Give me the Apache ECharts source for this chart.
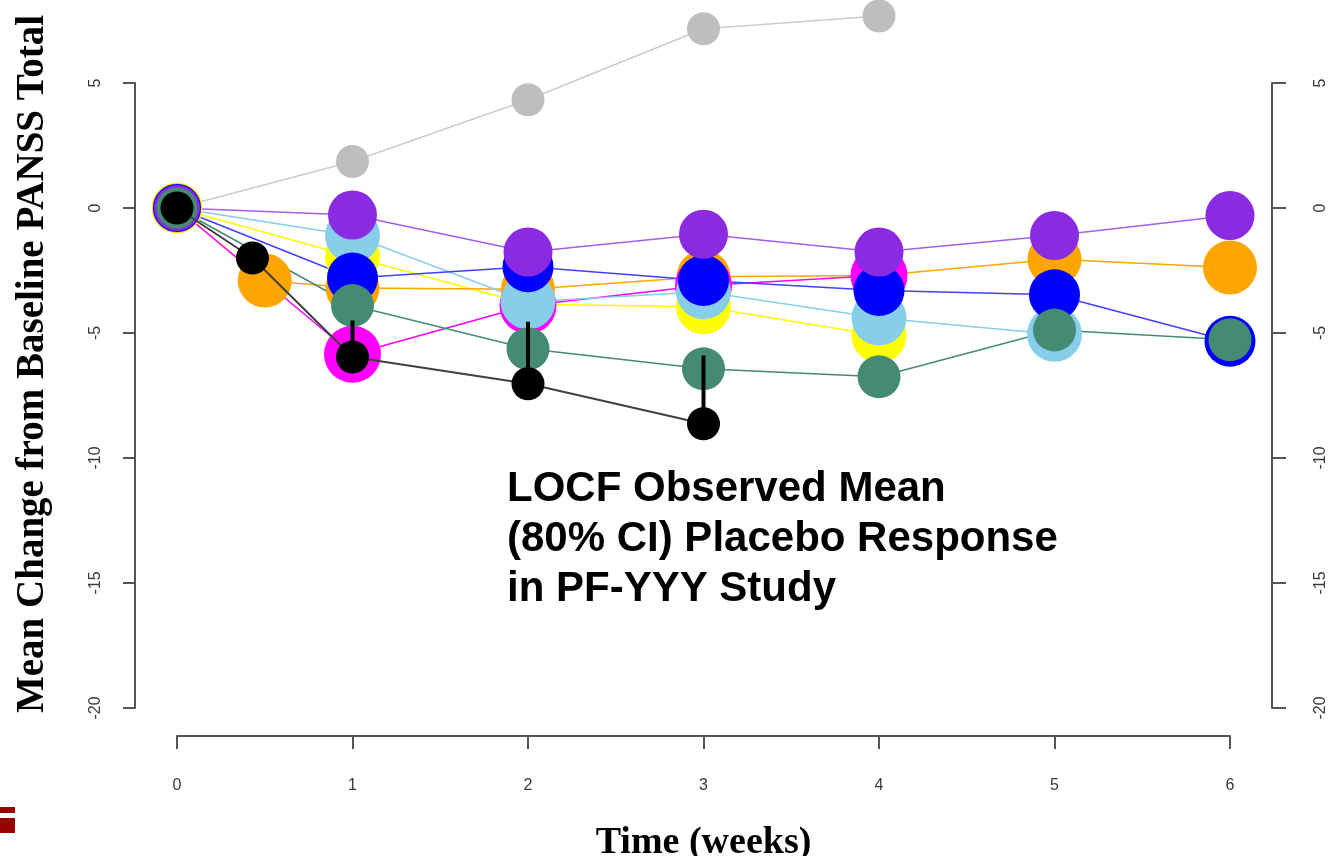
<!DOCTYPE html>
<html>
<head>
<meta charset="utf-8">
<script src="https://cdn.jsdelivr.net/npm/echarts@6/dist/echarts.min.js"></script>
<style>
  html, body { margin: 0; padding: 0; background: #fff; }
  #chart { width: 1336px; height: 856px; }
</style>
</head>
<body>
<div id="chart"></div>
<script>
// weeks on the x axis
const weeks = [0, 1, 2, 3, 4, 5, 6];
const orangeWeeks = [0, 0.5, 1, 2, 3, 4, 5, 6];
const blackWeeks = [0, 0.43, 1, 2, 3];
const yTicks = [-20, -15, -10, -5, 0, 5];

// mean change from baseline, one array per study
const grayVals = [0, 1.86, 4.33, 7.17, 7.68];
const yellowVals = [0, -1.95, -3.85, -3.95, -5.1];
const orangeVals = [0, -2.9, -3.2, -3.25, -2.75, -2.7, -2.05, -2.38];
const magentaVals = [0, -5.85, -3.9, -3.1, -2.7];
const lightBlueVals = [0, -1.1, -3.75, -3.35, -4.4, -5.05];
const blueVals = [0, -2.8, -2.35, -2.9, -3.3, -3.47, -5.33];
const greenVals = [0, -3.9, -5.63, -6.43, -6.75, -4.88, -5.27];
const purpleVals = [0, -0.28, -1.76, -1.05, -1.76, -1.1, -0.3];
const blackVals = [0, -2.0, -5.96, -7.03, -8.63];

// observed placebo 80% CI, upper end (only upper half visible)
const ciWeeks = [1, 2, 3];
const ciUpper = [-4.5, -4.55, -5.9];

const pairs = (xs, ys) => ys.map((v, i) => [xs[i], v]);

function study(name, xs, ys, color, size, baseSize, lineColor, lineWidth, z) {
  return {
    name: name,
    type: 'line',
    z: z || 2,
    data: pairs(xs, ys),
    symbol: 'circle',
    symbolSize: (val, p) => (p.dataIndex === 0 ? baseSize : size),
    clip: false,
    itemStyle: { color: color },
    lineStyle: { color: lineColor || color, width: lineWidth || 1.5 },
    emphasis: { disabled: true }
  };
}

const chart = echarts.init(document.getElementById('chart'));

const axisColor = '#555';
const labelStyle = { color: '#3a3a3a', fontSize: 16, fontFamily: 'Liberation Sans, Arial, sans-serif' };

const option = {
  animation: false,
  grid: { left: 177, width: 1053, top: 83, height: 625, outerBoundsMode: 'none', containLabel: false },
  xAxis: {
    type: 'value',
    min: 0,
    max: 6,
    interval: 1,
    offset: 28,
    splitLine: { show: false },
    axisLine: { onZero: false, lineStyle: { color: axisColor, width: 2 } },
    axisTick: { length: 13, lineStyle: { color: axisColor, width: 2 } },
    axisLabel: Object.assign({ margin: 42 }, labelStyle),
    name: 'Time (weeks)',
    nameLocation: 'middle',
    nameGap: 88,
    nameTextStyle: { fontFamily: 'Liberation Serif, Times New Roman, serif', fontWeight: 'bold', fontSize: 38, color: '#000' }
  },
  yAxis: [
    {
      type: 'value',
      min: -20,
      max: 5,
      interval: 5,
      position: 'left',
      offset: 42,
      splitLine: { show: false },
      axisLine: { show: true, onZero: false, lineStyle: { color: axisColor, width: 2 } },
      axisTick: { show: true, length: 12, lineStyle: { color: axisColor, width: 2 } },
      axisLabel: Object.assign({ rotate: 90, margin: 31,
        formatter: v => yTicks.includes(v) ? String(v) : '' }, labelStyle)
    },
    {
      type: 'value',
      min: -20,
      max: 5,
      interval: 5,
      position: 'right',
      offset: 42,
      splitLine: { show: false },
      axisLine: { show: true, onZero: false, lineStyle: { color: axisColor, width: 2 } },
      axisTick: { show: true, length: 14, lineStyle: { color: axisColor, width: 2 } },
      axisLabel: Object.assign({ rotate: 90, margin: 41 }, labelStyle)
    }
  ],
  graphic: [
    {
      type: 'text',
      x: 33, y: 364,
      rotation: Math.PI / 2,
      style: {
        text: 'Mean Change from Baseline PANSS Total',
        fontFamily: 'Liberation Serif, Times New Roman, serif',
        fontWeight: 'bold',
        fontSize: 39,
        fill: '#000',
        textAlign: 'center',
        textVerticalAlign: 'middle'
      }
    },
    {
      type: 'text',
      x: 507, y: 464,
      style: {
        text: 'LOCF Observed Mean\n(80% CI) Placebo Response\nin PF-YYY Study',
        fontFamily: 'Liberation Sans, Arial, sans-serif',
        fontWeight: 'bold',
        fontSize: 42,
        lineHeight: 50,
        fill: '#000',
        textAlign: 'left',
        textVerticalAlign: 'top'
      }
    },
    { type: 'rect', shape: { x: 0, y: 807, width: 15, height: 6 }, style: { fill: '#990000' } },
    { type: 'rect', shape: { x: 0, y: 818, width: 15, height: 15 }, style: { fill: '#990000' } }
  ],
  series: [
    study('Study A', weeks, grayVals, '#bebebe', 33, 33, '#cccccc'),
    study('Study B', weeks, yellowVals, '#ffff00', 55, 51),
    study('Study C', orangeWeeks, orangeVals, '#ffa500', 54, 49),
    study('Study D', weeks, magentaVals, '#ff00ff', 57, 47),
    study('Study E', weeks, lightBlueVals, '#87ceeb', 55, 48),
    study('Study F', weeks, blueVals, '#0000ff', 51, 48, '#4040ff'),
    study('Study H', weeks, purpleVals, '#8a2be2', 49, 46, '#a060ec'),
    study('Study G', weeks, greenVals, '#458b74', 43, 41),
    study('PF-YYY observed', blackWeeks, blackVals, '#000000', 33, 33, '#404040', 2, 4),
    {
      name: 'PF-YYY 80% CI',
      type: 'custom',
      clip: false,
      z: 3,
      data: ciWeeks.map((w, i) => [w, ciUpper[i], blackVals[blackWeeks.indexOf(w)]]),
      renderItem: function (params, api) {
        const top = api.coord([api.value(0), api.value(1)]);
        const bot = api.coord([api.value(0), api.value(2)]);
        return {
          type: 'line',
          z2: 100,
          shape: { x1: top[0], y1: top[1], x2: bot[0], y2: bot[1] },
          style: { stroke: '#000', lineWidth: 4 }
        };
      }
    }
  ]
};

chart.setOption(option);
window.addEventListener('resize', () => chart.resize());
</script>
</body>
</html>
